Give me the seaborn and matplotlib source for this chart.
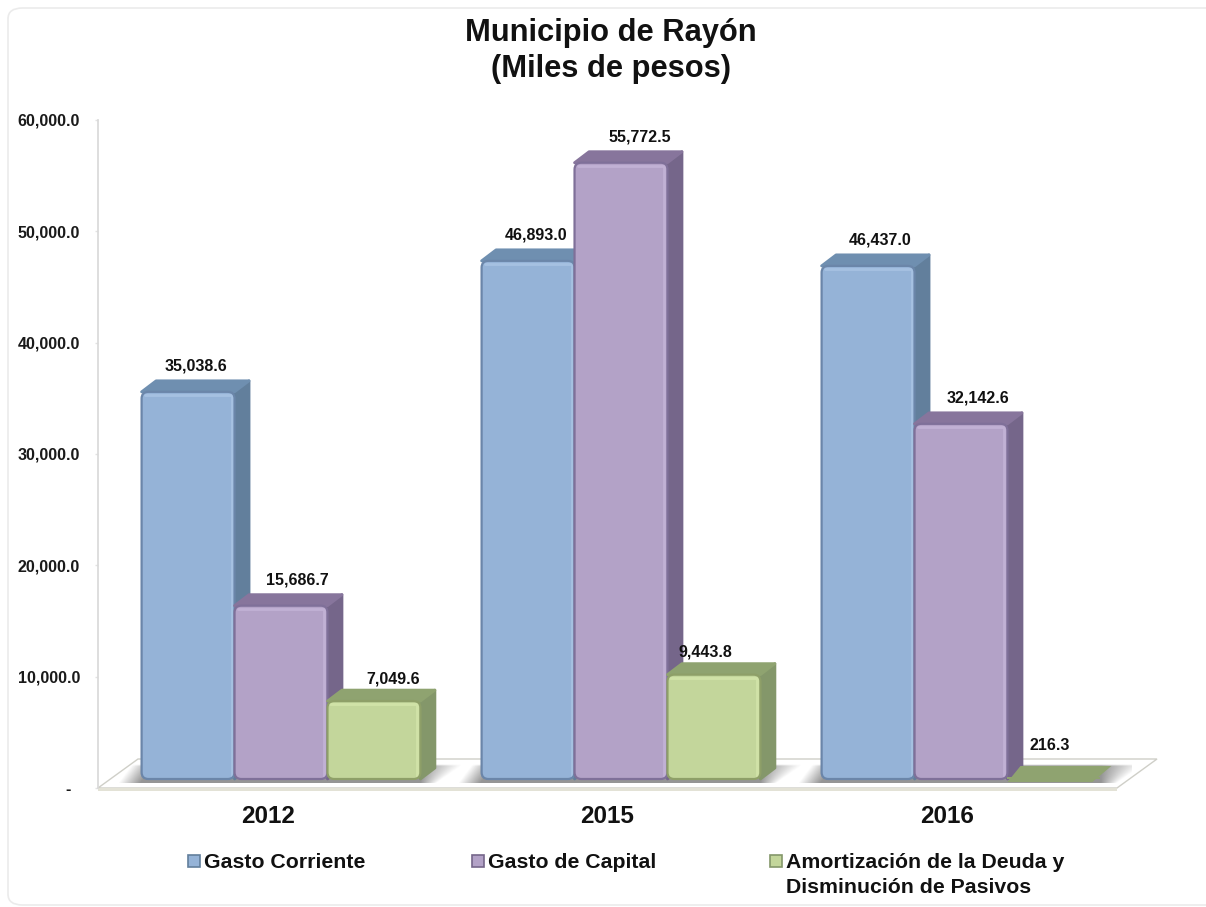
import numpy as np
import pandas as pd
import matplotlib
matplotlib.use('Agg')
import matplotlib.pyplot as plt
import seaborn as sns
from matplotlib.patches import FancyBboxPatch, Polygon, Rectangle

# Datos del municipio
anios = ['2012', '2015', '2016']
tipos = ['Gasto Corriente', 'Gasto de Capital', 'Amortización de la Deuda y\nDisminución de Pasivos']
gasto_corriente = [35038.6, 46893.0, 46437.0]
gasto_capital = [15686.7, 55772.5, 32142.6]
amortizacion = [7049.6, 9443.8, 216.3]
y_ticks = [0, 10000, 20000, 30000, 40000, 50000, 60000]

# Colores: frente, caras laterales, tapa, borde, brillo
frente = ['#95B3D7', '#B3A2C7', '#C3D69B']
lateral = ['#627F9C', '#75668A', '#84976A']
tapa = ['#6F8FB0', '#87759C', '#8FA370']
borde = ['#6B86A9', '#7F7099', '#8E9F68']
brillo = ['#B4CDEB', '#CDBEE0', '#DCEDB2']

# Ajuste de cada etiqueta respecto a su barra (px)
label_dx = [[8, 8, 12], [16, 19, 17], [19, -9, -4]]
label_dy = [[7, 7, 7], [7, 7, 7], [4, 4, 13]]

W, H = 1206, 907
px_x = 340.0        # px por categoria
px_y = 0.01105      # px por unidad en las barras
dx = 14.5 / px_x    # profundidad 3D en unidades de datos
dy = 11 / px_y

sns.set_theme(style='white')
plt.rcParams['font.family'] = ['Liberation Sans', 'DejaVu Sans']

df = pd.DataFrame({
    'Año': anios * 3,
    'Tipo': np.repeat(tipos, 3),
    'Valor': gasto_corriente + gasto_capital + amortizacion,
})

fig = plt.figure(figsize=(W / 100, H / 100), dpi=100)
fig.patch.set_facecolor('white')


def caja(x0, y0, x1, y1):
    return [x0 / W, 1 - y1 / H, (x1 - x0) / W, (y1 - y0) / H]


# Marco redondeado de fondo
fig.add_artist(FancyBboxPatch((8 / W, 2 / H), 1.02, 1 - 10 / H, boxstyle='round,pad=0,rounding_size=0.012',
                              transform=fig.transFigure, fc='white', ec='#EBEBEB', lw=1.2, zorder=-5))

# Eje con la escala y el piso
ax = fig.add_axes(caja(98, 120, 1117, 788), facecolor='none')
ax.set_xlim(-0.5, 2.5)
ax.set_ylim(0, 60000)
ax.set_yticks(y_ticks)
ax.set_yticklabels([f'{v:,.1f}' if v else '-  ' for v in y_ticks], fontsize=11.5, fontweight='bold', color='#1A1A1A')
ax.set_xticks(range(3))
ax.set_xticklabels(anios, fontsize=17.5, fontweight='bold', color='#111111')
ax.tick_params(axis='x', length=0, pad=12)
ax.tick_params(axis='y', length=2, width=1, color='#E2E2E2', pad=11, left=True)
for s in ['top', 'right', 'bottom']:
    ax.spines[s].set_visible(False)
ax.spines['left'].set_color('#D9D9D9')

piso = Polygon([(0, 0), (1, 0), (1 + 40 / 1019, 29 / 668), (40 / 1019, 29 / 668)], closed=True,
               transform=ax.transAxes, fc='white', ec='#CFCFC8', lw=1, clip_on=False, zorder=1)
ax.add_patch(piso)
ax.add_patch(Rectangle((0, -3 / 668), 1, 3 / 668, transform=ax.transAxes, fc='#E3E2D6', ec='none',
                       clip_on=False, zorder=1))

# Barras con seaborn
ax_b = fig.add_axes(caja(111, 120, 1131, 788), facecolor='none')
sns.barplot(data=df, x='Año', y='Valor', hue='Tipo', hue_order=tipos, order=anios, palette=frente,
            saturation=1, width=0.82, gap=0, legend=False, ax=ax_b)
ax_b.axis('off')

# Sombra sobre el piso, una por grupo (degradado inclinado como el piso)
mitad = 0.41 * px_x
u = np.linspace(-mitad - 30, mitad + 50, 400)[None, :]
v = np.linspace(1, 0, 40)[:, None]
fade_izq = np.clip((u - (-mitad - 24 + 14 * v)) / 22, 0, 1)
borde_der = mitad + 16 + 27 * v
fade_der = np.clip((borde_der - u) / (16 + 27 * v), 0, 1)
sombra = np.zeros((40, 400, 4))
sombra[..., :3] = 0.42
sombra[..., 3] = 0.72 * fade_izq * fade_der * np.clip((1 - v) / 0.1, 0, 1)
for i in range(3):
    ax_b.imshow(sombra, extent=(i + u.min() / px_x, i + u.max() / px_x, -4 / px_y, 15 / px_y), aspect='auto', zorder=0.5)
ax_b.set_xlim(-0.5, 2.5)
ax_b.set_ylim(-9 / px_y, (668 - 9) / px_y)

# Volumen de cada barra
z = 2
for g, cont in enumerate(ax_b.containers):
    for i, bar in enumerate(cont):
        x0 = bar.get_x()
        x1 = x0 + bar.get_width()
        h = bar.get_height()
        plano = h * px_y < 6
        bar.set_zorder(z + 0.2)
        bar.set_edgecolor('none')
        if plano:
            # barra casi sin altura: solo se ve la tapa
            bar.set_facecolor(tapa[g])
            ax_b.add_patch(Polygon([(x0, -3 / px_y), (x1 - 8 / px_x, -3 / px_y), (x1 + 11 / px_x, 13 / px_y), (x0 + 13 / px_x, 13 / px_y)],
                                   closed=True, fc=tapa[g], ec='none', zorder=z + 0.3))
        else:
            ax_b.add_patch(Polygon([(x1, 0), (x1 + dx, dy), (x1 + dx, h + dy), (x1, h)], closed=True,
                                   fc=lateral[g], ec=lateral[g], lw=2, joinstyle='round', zorder=z))
            ax_b.add_patch(Polygon([(x0, h), (x0 + dx, h + dy), (x1 + dx, h + dy), (x1, h)], closed=True,
                                   fc=tapa[g], ec=tapa[g], lw=2, joinstyle='round', zorder=z + 0.1))
            estilo = 'round,pad=0,rounding_size=0.02'
            contorno = FancyBboxPatch((x0, 0), x1 - x0, h, boxstyle=estilo, mutation_aspect=px_x / px_y,
                                      fc='none', ec=borde[g], lw=1.6, zorder=z + 0.4)
            ax_b.add_patch(contorno)
            bar.set_clip_path(contorno)
            # brillo arriba y a la derecha
            ax_b.plot([x0 + 3 / px_x, x1 - 3 / px_x, x1 - 3 / px_x], [h - 3 / px_y, h - 3 / px_y, 3 / px_y],
                      color=brillo[g], lw=2, alpha=0.55, zorder=z + 0.3)
        ax_b.annotate(f'{h:,.1f}', (x0 + (x1 - x0) / 2, h + dy), xytext=(label_dx[g][i], label_dy[g][i]),
                      textcoords='offset pixels', ha='center', va='bottom', fontsize=11.5, fontweight='bold',
                      color='#111111', zorder=200, annotation_clip=False)
        z += 1

# Titulo
fig.text(611 / W, 1 - 33 / H, 'Municipio de Rayón', ha='center', va='center', fontsize=22.2, fontweight='bold', color='#111111')
fig.text(611 / W, 1 - 69 / H, '(Miles de pesos)', ha='center', va='center', fontsize=22.2, fontweight='bold', color='#111111')

# Leyenda
ley_x = [188, 472, 770]
for g, (x, t) in enumerate(zip(ley_x, tipos)):
    fig.add_artist(Rectangle((x / W, 1 - 867 / H), 12 / W, 12 / H, transform=fig.transFigure, fc=frente[g], ec=lateral[g], lw=1.2))
    fig.text((x + 16) / W, 1 - 853 / H, t, ha='left', va='top', fontsize=15.3, fontweight='bold',
             color='#111111', linespacing=1.41)

fig.savefig('out.png', dpi=100)
